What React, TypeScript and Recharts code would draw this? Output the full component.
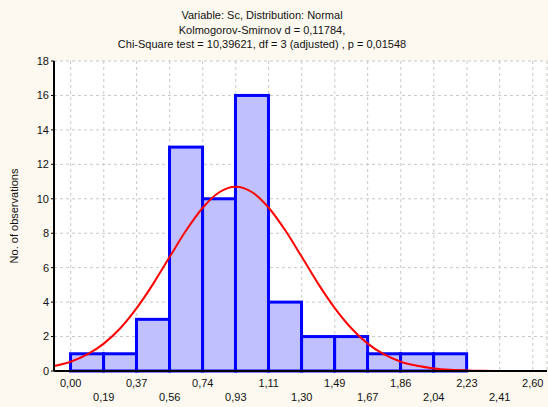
import {
  ComposedChart,
  Bar,
  Line,
  XAxis,
  YAxis,
  CartesianGrid,
} from "recharts";

// Histogram of Sc with fitted normal curve
const titleLines = [
  "Variable: Sc, Distribution: Normal",
  "Kolmogorov-Smirnov d = 0,11784,",
  "Chi-Square test = 10,39621, df = 3 (adjusted) , p = 0,01548",
];

const xTicks = [0, 0.186, 0.371, 0.557, 0.743, 0.929, 1.114, 1.3, 1.486, 1.671, 1.857, 2.043, 2.229, 2.414, 2.6];
const xTickLabels = ["0,00", "0,19", "0,37", "0,56", "0,74", "0,93", "1,11", "1,30", "1,49", "1,67", "1,86", "2,04", "2,23", "2,41", "2,60"];
const yTicks = [0, 2, 4, 6, 8, 10, 12, 14, 16, 18];

// bin centres and observed counts
const binCenters = [0.093, 0.279, 0.464, 0.65, 0.836, 1.021, 1.207, 1.393, 1.579, 1.764, 1.95, 2.136];
const binCounts = [1, 1, 3, 13, 10, 16, 4, 2, 2, 1, 1, 1];

// fitted normal curve
const curveX = [-0.094, 0, 0.093, 0.186, 0.279, 0.371, 0.464, 0.557, 0.65, 0.743, 0.836, 0.929, 1.021, 1.114, 1.207, 1.3, 1.393, 1.486, 1.579, 1.671, 1.764, 1.857, 1.95, 2.043, 2.136, 2.229, 2.321, 2.414, 2.507, 2.6, 2.68];
const curveY = [0.29, 0.54, 0.96, 1.59, 2.48, 3.65, 5.06, 6.63, 8.17, 9.48, 10.38, 10.7, 10.38, 9.48, 8.17, 6.63, 5.06, 3.65, 2.48, 1.59, 0.96, 0.54, 0.3, 0.15, 0.07, 0.03, 0.01, 0, 0, 0, 0];

const X_DOMAIN: [number, number] = [-0.094, 2.68];
const BIN_WIDTH = 2.6 / 14;

const W = 548;
const H = 407;
const MARGIN = { top: 61, right: 1, bottom: 0, left: 0 };
const Y_AXIS_W = 54;
const X_AXIS_H = 36;

const FONT = '"Liberation Sans", Arial, sans-serif';

const rows = curveX.map((x, i) => {
  const k = binCenters.findIndex((c) => Math.abs(c - x) < 0.005);
  return { x, fit: curveY[i], count: k >= 0 ? binCounts[k] : null };
});

const plotW = W - MARGIN.left - MARGIN.right - Y_AXIS_W;
const barPx = (plotW * BIN_WIDTH) / (X_DOMAIN[1] - X_DOMAIN[0]);

// the library centres each bar on its bin; widen it to the full bin width
const HistBar = (props: any) => {
  const { x, y, width, height } = props;
  if (height == null || height <= 0) return null;
  const cx = x + width / 2;
  return (
    <rect
      x={cx - barPx / 2}
      y={y}
      width={barPx}
      height={height}
      fill="#c0c0ff"
      stroke="#0000ff"
      strokeWidth={3}
    />
  );
};

const XTick = (props: any) => {
  const { x, y, index } = props;
  return (
    <text
      x={x}
      y={y + (index % 2 ? 30 : 16)}
      textAnchor="middle"
      fontSize={11}
      fontFamily={FONT}
      fill="#111"
    >
      {xTickLabels[index]}
    </text>
  );
};

export default function App() {
  return (
    <div
      style={{
        position: "absolute",
        left: 0,
        top: 0,
        width: W,
        height: H,
        background: "#fdf9f0",
        fontFamily: FONT,
      }}
    >
      <div
        style={{
          position: "absolute",
          left: 0,
          top: 7,
          width: 524,
          textAlign: "center",
          fontSize: 11,
          color: "#111",
        }}
      >
        <div style={{ lineHeight: "16px" }}>{titleLines[0]}</div>
        <div style={{ lineHeight: "14px" }}>{titleLines[1]}</div>
        <div style={{ lineHeight: "14px" }}>{titleLines[2]}</div>
      </div>
      <ComposedChart width={W} height={H} data={rows} margin={MARGIN}>
        <CartesianGrid stroke="#c8c8c8" strokeDasharray="3 3" fill="#ffffff" />
        <XAxis
          dataKey="x"
          type="number"
          domain={X_DOMAIN}
          ticks={xTicks}
          interval={0}
          allowDataOverflow
          height={X_AXIS_H}
          tickSize={0}
          tickMargin={0}
          tickLine={false}
          tick={<XTick />}
          axisLine={{ stroke: "#000", strokeWidth: 2 }}
        />
        <XAxis
          xAxisId="top"
          dataKey="x"
          type="number"
          orientation="top"
          domain={X_DOMAIN}
          allowDataOverflow
          height={0}
          tick={false}
          tickLine={false}
          axisLine={{ stroke: "#000", strokeWidth: 2 }}
        />
        <YAxis
          type="number"
          domain={[0, 18]}
          ticks={yTicks}
          interval={0}
          width={Y_AXIS_W}
          tickSize={3}
          tickMargin={2}
          tick={{ fontSize: 11, fontFamily: FONT, fill: "#111" }}
          tickLine={{ stroke: "#000" }}
          axisLine={{ stroke: "#000", strokeWidth: 2 }}
          label={{
            value: "No. of observations",
            angle: -90,
            position: "insideLeft",
            offset: 14,
            style: { fontSize: 11, fontFamily: FONT, fill: "#111", textAnchor: "middle" },
          }}
        />
        <YAxis
          yAxisId="right"
          orientation="right"
          domain={[0, 18]}
          width={0}
          tick={false}
          tickLine={false}
          axisLine={{ stroke: "#555", strokeWidth: 1 }}
        />
        <Bar dataKey="count" shape={<HistBar />} isAnimationActive={false} />
        <Line
          dataKey="fit"
          type="monotone"
          stroke="#ff0000"
          strokeWidth={2}
          dot={false}
          activeDot={false}
          isAnimationActive={false}
        />
      </ComposedChart>
    </div>
  );
}
